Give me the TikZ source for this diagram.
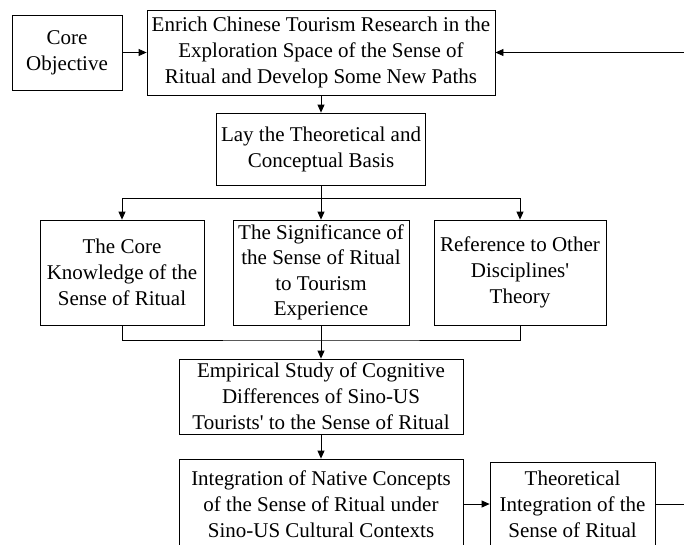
\documentclass[tikz,border=0pt]{standalone}
\usepackage{fontspec}
\setmainfont{Liberation Serif}
\usetikzlibrary{arrows.meta,positioning}

\begin{document}
\begin{tikzpicture}[x=1pt, y=-1pt,
  box/.style={draw, line width=0.8pt, inner sep=0pt, align=center,
    font=\fontsize{21}{26}\selectfont},
  arr/.style={line width=0.8pt, -{Triangle[length=8pt, width=7pt]}},
  link/.style={line width=0.8pt}]

\useasboundingbox (0,0) rectangle (684,544);
\clip (0,0) rectangle (684,544);

% top row
\node[box, minimum width=110pt, minimum height=75pt] (core) at (67,52.5) {Core\\Objective};
\node[box, minimum width=348pt, minimum height=85pt] (goal) at (321,52.5)
  {Enrich Chinese Tourism Research in the\\Exploration Space of the Sense of\\Ritual and Develop Some New Paths};
\draw[arr] (core) -- (goal);

% theoretical basis and its three parts
\node[box, minimum width=209pt, minimum height=72pt] (basis) at (321,149)
  {Lay the Theoretical and\\Conceptual Basis};
\draw[arr] (goal) -- (basis);

\node[box, minimum width=164pt, minimum height=105pt] (know) at (122,272.5)
  {The Core\\Knowledge of the\\Sense of Ritual};
\node[box, minimum width=176pt, minimum height=105pt,
  font=\fontsize{21}{25.5}\selectfont] (signif) at (321,272.5)
  {The Significance of\\the Sense of Ritual\\to Tourism\\Experience};
\node[box, minimum width=172pt, minimum height=105pt] (refer) at (520,272.5)
  {Reference to Other\\Disciplines\textquotesingle\\Theory};

\coordinate (split) at (321,198);
\draw[arr] (basis) -- (signif);
\draw[arr] (split) -| (know.north);
\draw[arr] (split) -| (refer.north);

% empirical part
\node[box, minimum width=284pt, minimum height=75pt] (empir) at (321,396.5)
  {Empirical Study of Cognitive\\Differences of Sino-US\\Tourists\textquotesingle{} to the Sense of Ritual};
\coordinate (join) at (321,340);
\draw[link] (know.south) |- (join) -| (refer.south);
\draw[arr] (signif) -- (empir);

% integration
\node[box, minimum width=284pt, minimum height=90pt] (integ) at (321,504)
  {Integration of Native Concepts\\of the Sense of Ritual under\\Sino-US Cultural Contexts};
\node[box, minimum width=165pt, minimum height=84pt] (theor) at (572.5,504)
  {Theoretical\\Integration of the\\Sense of Ritual};
\draw[arr] (empir) -- (integ);
\draw[arr] (integ) -- (theor);

% feedback to the objective (runs outside the frame)
\coordinate (fbr) at (700,504);
\coordinate (fbt) at (700,52.5);
\draw[arr] (theor.east) -- (fbr) -- (fbt) -- (goal.east);

\end{tikzpicture}
\end{document}
